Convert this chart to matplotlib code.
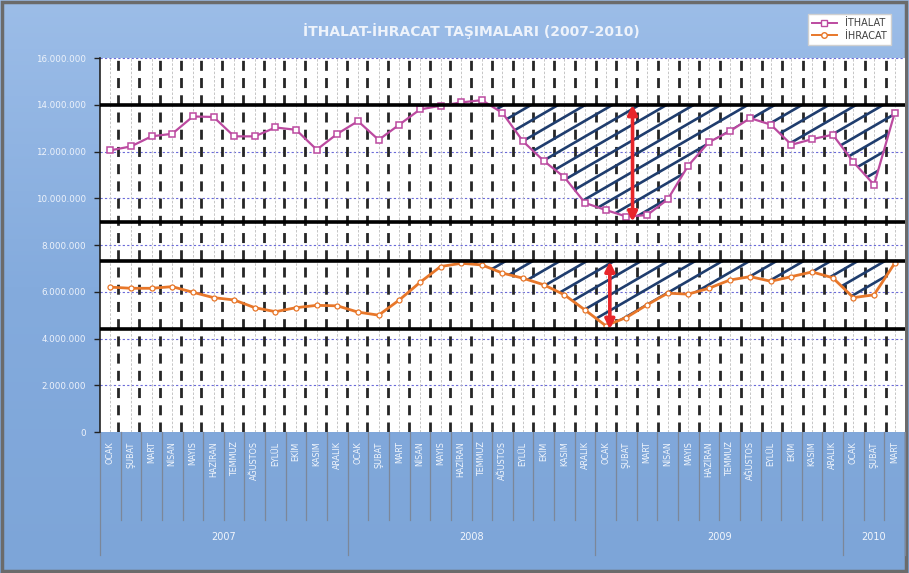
import matplotlib
matplotlib.use("Agg")
import matplotlib.pyplot as plt
import matplotlib.transforms as mtransforms
from matplotlib.collections import LineCollection
from matplotlib.colors import LinearSegmentedColormap
from matplotlib.lines import Line2D
import numpy as np

# ---- data (millions of tonnes) ----
years = ["2007", "2008", "2009", "2010"]
months = ["OCAK", "ŞUBAT", "MART", "NİSAN", "MAYIS", "HAZİRAN", "TEMMUZ",
          "AĞUSTOS", "EYLÜL", "EKİM", "KASIM", "ARALIK"]
months_per_year = [12, 12, 12, 3]

ithalat = [12.05, 12.22, 12.65, 12.76, 13.50, 13.48, 12.65, 12.65, 13.03, 12.93, 12.08, 12.76,
           13.30, 12.50, 13.15, 13.80, 13.96, 14.10, 14.20, 13.65, 12.43, 11.60, 10.90, 9.80,
           9.50, 9.22, 9.28, 9.95, 11.40, 12.40, 12.86, 13.43, 13.15, 12.29, 12.53, 12.72,
           11.55, 10.58, 13.65]
ihracat = [6.20, 6.15, 6.15, 6.22, 5.98, 5.75, 5.65, 5.32, 5.15, 5.32, 5.42, 5.40,
           5.13, 5.00, 5.65, 6.40, 7.08, 7.22, 7.15, 6.80, 6.58, 6.30, 5.87, 5.22,
           4.55, 4.90, 5.44, 5.94, 5.90, 6.15, 6.50, 6.65, 6.45, 6.65, 6.85, 6.60,
           5.75, 5.87, 7.22]

# reference levels drawn as thick black lines (top / bottom of each band)
ithalat_band = [14.0, 9.0]
ihracat_band = [7.3, 4.4]
# month index where the red arrows sit
arrow_x = [25.3, 24.2]

labels = []
for n in months_per_year:
    labels += months[:n]
x = np.arange(len(ithalat))
y_imp = np.array(ithalat) * 1e6
y_exp = np.array(ihracat) * 1e6

# ---- figure ----
fig = plt.figure(figsize=(9.09, 5.73), dpi=100)

bg = fig.add_axes([0, 0, 1, 1], zorder=-5)
grad = np.linspace(0, 1, 256).reshape(-1, 1)
cmap = LinearSegmentedColormap.from_list("bg", ["#9CBDE8", "#84ABDD", "#7DA5D8"])
bg.imshow(grad, aspect="auto", cmap=cmap, extent=[0, 1, 0, 1])
bg.add_patch(plt.Rectangle((0.002, 0.003), 0.995, 0.994, fill=False,
                           edgecolor="#6B6B6B", lw=2.5))
bg.set_xlim(0, 1); bg.set_ylim(0, 1)
bg.axis("off")

ax = fig.add_axes([0.110, 0.246, 0.8856, 0.6527])
ax.set_facecolor("white")
ax.set_xlim(-0.5, len(x) - 0.5)
ax.set_ylim(0, 16e6)

# grid
for yy in np.arange(2e6, 16e6 + 1, 2e6):
    ax.axhline(yy, color="#6A6AD8", lw=0.8, ls=(0, (2, 2)), zorder=1)
for xi in x:
    ax.axvline(xi, color="#BDBDBD", lw=0.6, ls=(0, (3, 2)), zorder=1)
for xv in np.linspace(0.39, 37.58, 38):
    ax.axvline(xv, color="#262626", lw=2.0, ls=(0, (3.6, 2.6)), zorder=2)

# thick band lines
for lvl in ithalat_band + ihracat_band:
    ax.axhline(lvl * 1e6, color="black", lw=2.6, zorder=6)


def hatch_between(xs, ys, top):
    poly = ax.fill_between(xs, ys, top, where=ys <= top, interpolate=True,
                           facecolor="none", edgecolor="none", zorder=3)
    # slanted hatch lines drawn in axes fraction, clipped to the region
    slope = 0.58 * 805 / 374
    segs = [[(-0.2, c - 0.2 * slope), (1.2, c + 1.2 * slope)]
            for c in np.arange(-1.6, 1.2, 0.042)]
    for p in poly.get_paths():
        lc = LineCollection(segs, colors="#1F3D6E", linewidths=1.9,
                            transform=ax.transAxes, zorder=3)
        lc.set_clip_path(p, ax.transData)
        ax.add_collection(lc)


hatch_between(x[17:], y_imp[17:], ithalat_band[0] * 1e6)
hatch_between(x[17:], y_exp[17:], ihracat_band[0] * 1e6)

# series
ax.plot(x, y_imp, color="#BC4AA0", lw=1.6, marker="s", ms=5, mfc="white",
        mec="#BC4AA0", mew=1.1, zorder=5)
ax.plot(x, y_exp, color="#E8772A", lw=2.0, marker="o", ms=3.6, mfc="white",
        mec="#E8772A", mew=0.9, zorder=5)

# red arrows
for ax_x, (hi, lo) in zip(arrow_x, [ithalat_band, ihracat_band]):
    ax.annotate("", xy=(ax_x, lo * 1e6), xytext=(ax_x, hi * 1e6),
                arrowprops=dict(arrowstyle="<|-|>", color="#E8262A", lw=2.6,
                                mutation_scale=14, shrinkA=0, shrinkB=0),
                zorder=7)

# axes styling
for s in ["top", "right", "bottom"]:
    ax.spines[s].set_visible(False)
ax.spines["left"].set_color("#222222")
ax.spines["left"].set_linewidth(1.2)
ax.set_yticks(np.arange(0, 16e6 + 1, 2e6))
ax.set_yticklabels([f"{int(v):,}".replace(",", ".") for v in np.arange(0, 16e6 + 1, 2e6)],
                   fontsize=6.3, color="#EEF3FB")
ax.tick_params(axis="y", length=4, width=1, color="#222222", pad=6)
ax.set_xticks([])

# month labels and separators below the plot
trans = mtransforms.blended_transform_factory(ax.transData, ax.transAxes)
for i, lab in enumerate(labels):
    ax.text(i, -0.025, lab, rotation=90, ha="center", va="top", fontsize=5.8,
            color="#F2F6FC", transform=trans, clip_on=False)
year_starts = np.cumsum([0] + months_per_year)
for b in np.arange(-0.5, len(x), 1.0):
    long = (b + 0.5) in year_starts
    ax.add_line(Line2D([b, b], [0, -0.33 if long else -0.235], transform=trans,
                       color="#7C8799", lw=0.9, clip_on=False))
for k, yr in enumerate(years):
    mid = (year_starts[k] + year_starts[k + 1] - 1) / 2
    ax.text(mid, -0.28, yr, ha="center", va="center", fontsize=7,
            color="#F2F6FC", transform=trans, clip_on=False)

# title and legend
fig.text(0.519, 0.946, "İTHALAT-İHRACAT TAŞIMALARI (2007-2010)", ha="center",
         va="center", fontsize=10, fontweight="bold", color="#EEF3FB")
h1 = Line2D([], [], color="#BC4AA0", lw=1.4, marker="s", ms=5, mfc="white", mec="#BC4AA0")
h2 = Line2D([], [], color="#E8772A", lw=1.4, marker="o", ms=4, mfc="white", mec="#E8772A")
leg = fig.legend([h1, h2], ["İTHALAT", "İHRACAT"], loc="upper right",
                 bbox_to_anchor=(0.985, 0.984), fontsize=7, fancybox=False,
                 framealpha=1, edgecolor="#D0D0D0", handlelength=2.6,
                 borderpad=0.4, labelspacing=0.3, labelcolor="#404040")

fig.savefig("out.png", dpi=100)
